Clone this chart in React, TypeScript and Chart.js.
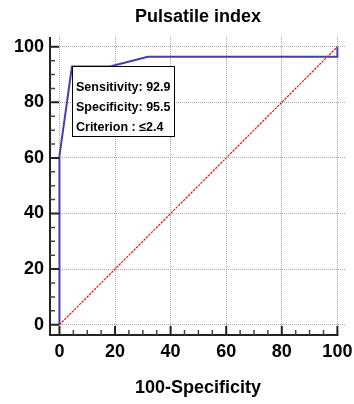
import React, { useEffect, useRef } from "react";
import { Chart, registerables } from "chart.js";

Chart.register(...registerables);

// ---- data ----
const falsePositiveRate = [0, 0, 4.5, 18.2, 31.8, 100, 100]; // 100-Specificity
const sensitivity = [0, 60.7, 92.9, 92.9, 96.4, 96.4, 100];
const diagonalX = [0, 100];
const diagonalY = [0, 100];
const majorTicks = [0, 20, 40, 60, 80, 100];
const minorTicks = [5, 10, 15, 25, 30, 35, 45, 50, 55, 65, 70, 75, 85, 90, 95];
const criterionPoint = [4.5, 92.9];
const annotationLines = ["Sensitivity: 92.9", "Specificity: 95.5", "Criterion : \u22642.4"];
const chartTitle = "Pulsatile index";
const xTitle = "100-Specificity";

const FONT = "'Liberation Sans', Arial, sans-serif";

const axesPlugin = {
  id: "medcalcAxes",
  afterDatasetsDraw(chart: any) {
    const { ctx, chartArea, scales } = chart;
    const xs = scales.x;
    const ys = scales.y;
    ctx.save();
    ctx.strokeStyle = "#222";
    ctx.lineCap = "butt";
    // axis lines
    ctx.lineWidth = 2;
    ctx.beginPath();
    ctx.moveTo(chartArea.left, chartArea.top);
    ctx.lineTo(chartArea.left, chartArea.bottom);
    ctx.lineTo(xs.getPixelForValue(100) + 1, chartArea.bottom);
    ctx.stroke();
    // major ticks
    ctx.beginPath();
    for (const v of majorTicks) {
      const px = xs.getPixelForValue(v);
      ctx.moveTo(px, chartArea.bottom);
      ctx.lineTo(px, chartArea.bottom - 9);
      const py = ys.getPixelForValue(v);
      ctx.moveTo(chartArea.left, py);
      ctx.lineTo(chartArea.left + 9, py);
    }
    ctx.stroke();
    // minor ticks
    ctx.lineWidth = 1.5;
    ctx.strokeStyle = "#444";
    ctx.beginPath();
    for (const v of minorTicks) {
      const px = xs.getPixelForValue(v);
      ctx.moveTo(px, chartArea.bottom);
      ctx.lineTo(px, chartArea.bottom - 5);
      const py = ys.getPixelForValue(v);
      ctx.moveTo(chartArea.left, py);
      ctx.lineTo(chartArea.left + 5, py);
    }
    ctx.stroke();

    // annotation box anchored at criterion point
    const bx = Math.round(xs.getPixelForValue(criterionPoint[0])) + 0.5;
    const by = Math.round(ys.getPixelForValue(criterionPoint[1])) + 0.5;
    ctx.font = "bold 12.5px " + FONT;
    let maxW = 0;
    for (const t of annotationLines) maxW = Math.max(maxW, ctx.measureText(t).width);
    const lineStep = 20;
    const w = Math.round(maxW + 8);
    const h = annotationLines.length * lineStep + 10;
    ctx.fillStyle = "#fff";
    ctx.fillRect(bx, by, w, h);
    ctx.lineWidth = 1;
    ctx.strokeStyle = "#000";
    ctx.strokeRect(bx, by, w, h);
    ctx.fillStyle = "#000";
    ctx.textBaseline = "alphabetic";
    ctx.textAlign = "left";
    annotationLines.forEach((t, i) => {
      ctx.fillText(t, bx + 3.5, by + 24 + i * lineStep);
    });
    ctx.restore();
  },
};

export default function App() {
  const canvasRef = useRef<HTMLCanvasElement>(null);

  useEffect(() => {
    const canvas = canvasRef.current;
    if (!canvas) return;
    const chart = new Chart(canvas, {
      type: "scatter",
      data: {
        datasets: [
          {
            label: "ROC",
            data: falsePositiveRate.map((x, i) => ({ x, y: sensitivity[i] })),
            showLine: true,
            borderColor: "#3f3fae",
            borderWidth: 2,
            pointRadius: 0,
            fill: false,
            tension: 0,
            order: 2,
          },
          {
            label: "Reference",
            data: diagonalX.map((x, i) => ({ x, y: diagonalY[i] })),
            showLine: true,
            borderColor: "rgb(215,40,40)",
            borderWidth: 1.3,
            borderDash: [2.5, 1],
            pointRadius: 0,
            fill: false,
            order: 1,
          },
        ],
      },
      options: {
        responsive: false,
        animation: false,
        devicePixelRatio: 1,
        layout: { padding: { left: 0, right: 8, top: 0, bottom: 0 } },
        plugins: {
          legend: { display: false },
          tooltip: { enabled: false },
          title: {
            display: true,
            text: chartTitle,
            fullSize: false,
            color: "#000",
            font: { family: FONT, size: 18, weight: "bold", lineHeight: 1.2 },
            padding: { top: 6, bottom: 9.4 },
          },
        },
        scales: {
          x: {
            type: "linear",
            min: -3.4,
            max: 103.1,
            afterBuildTicks: (s: any) => {
              s.ticks = majorTicks.map((v) => ({ value: v }));
            },
            afterFit: (s: any) => {
              s.height = 69;
              s.paddingLeft = 0;
              s.paddingRight = 0;
            },
            grid: { color: "#a8a8a8", lineWidth: 1, drawTicks: false },
            border: { display: false, dash: [1, 1] },
            ticks: {
              color: "#000",
              padding: 6,
              maxRotation: 0,
              autoSkip: false,
              font: { family: FONT, size: 18, weight: "bold", lineHeight: 1.2 },
            },
            title: {
              display: true,
              text: xTitle,
              color: "#000",
              font: { family: FONT, size: 18, weight: "bold", lineHeight: 1.2 },
              padding: { top: 0, bottom: 5 },
            },
          },
          y: {
            type: "linear",
            min: -3.7,
            max: 103.5,
            afterBuildTicks: (s: any) => {
              s.ticks = majorTicks.map((v) => ({ value: v }));
            },
            afterFit: (s: any) => {
              s.width = 50;
              s.paddingTop = 0;
              s.paddingBottom = 0;
            },
            grid: { color: "#a8a8a8", lineWidth: 1, drawTicks: false },
            border: { display: false, dash: [1, 1] },
            ticks: {
              color: "#000",
              padding: 6,
              autoSkip: false,
              font: { family: FONT, size: 18, weight: "bold", lineHeight: 1.2 },
            },
          },
        },
      },
      plugins: [axesPlugin],
    } as any);
    return () => chart.destroy();
  }, []);

  return (
    <div style={{ position: "fixed", left: 0, top: 0, width: 354, height: 404, background: "#fff" }}>
      <canvas ref={canvasRef} width={354} height={404} style={{ display: "block" }} />
    </div>
  );
}
